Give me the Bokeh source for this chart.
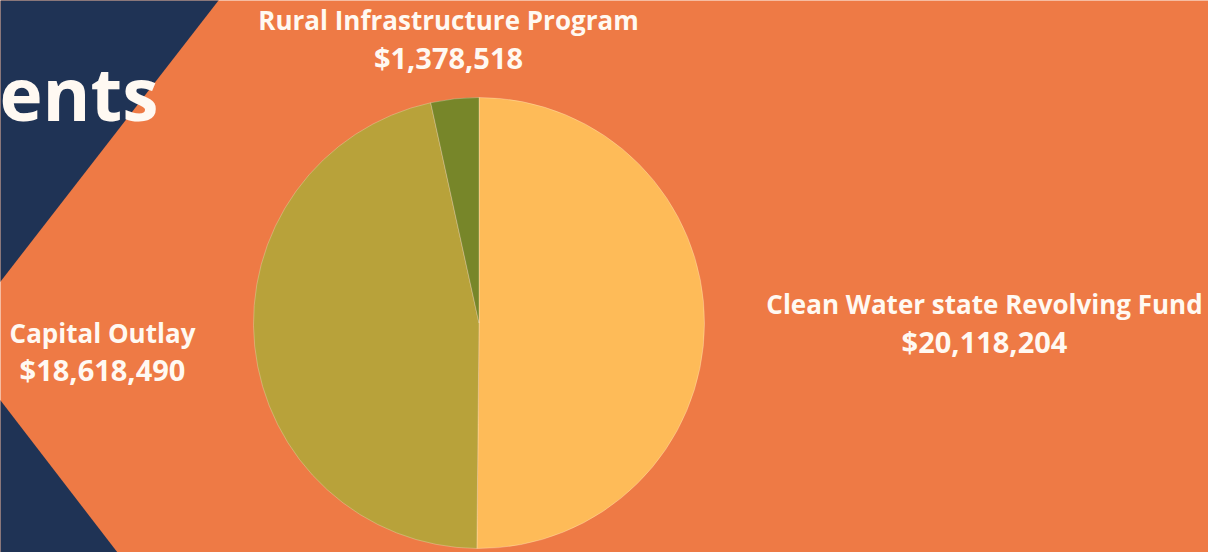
import numpy as np
from bokeh.plotting import figure
from bokeh.models import ColumnDataSource, Range1d
from bokeh.core.properties import value
from bokeh.embed import file_html
from bokeh.resources import INLINE

# ---- data ----
categories = ["Clean Water state Revolving Fund", "Capital Outlay", "Rural Infrastructure Program"]
amounts = [20118204, 18618490, 1378518]
labels = ["$20,118,204", "$18,618,490", "$1,378,518"]
colors = ["#FEBB58", "#B8A23A", "#778629"]

W, H = 1208, 552
BG = "#EE7A45"
NAVY = "#1F3355"
TXT = "#FFF9F2"
FONT = value("Open Sans")

p = figure(width=W, height=H, output_backend="svg", toolbar_location=None,
           x_range=Range1d(0, W), y_range=Range1d(0, H), min_border=0)
p.axis.visible = False
p.grid.visible = False
p.outline_line_color = None
p.background_fill_color = BG
p.border_fill_color = BG

def sy(y):  # screen-y (top-down) to data y
    return H - y

# navy background shapes (left of a chevron)
p.patches(xs=[[-60, 218 + 0.775 * 10, -60],
              [-60, 117 + 0.77 * 20, -60]],
          ys=[[sy(-10), sy(-10), sy(281 + 60 / 0.775)],
              [sy(400 - 60 / 0.77), sy(572), sy(572)]],
          fill_color=NAVY, line_color=None)

# pie
vals = np.array(amounts, dtype=float)
frac = vals / vals.sum()
cum = np.concatenate([[0], np.cumsum(frac)])
start = np.pi / 2 - cum[:-1] * 2 * np.pi
end = np.pi / 2 - cum[1:] * 2 * np.pi
src = ColumnDataSource(dict(start=start, end=end, color=colors, cat=categories))
cx, cy, r = 478.5, sy(322.5), 225.5
p.wedge(x=cx, y=cy, radius=r, start_angle="start", end_angle="end", direction="clock",
        fill_color="color", line_color="#FFFFFF", line_alpha=0.25, line_width=1, source=src)

# big partial title
p.text(x=[158], y=[sy(92)], text=["ents"], text_font=FONT, text_font_style="bold",
       text_font_size="73px", text_color=TXT, text_align="right", text_baseline="alphabetic")

# labels
lab_x = [984, 102, 448]
lab_y1 = [303, 332, 19]
lab_y2 = [341, 369, 57]
p.text(x=lab_x, y=[sy(v) for v in lab_y1], text=categories, text_font=FONT, text_font_style="bold",
       text_font_size="26px", text_color=TXT, text_align="center", text_baseline="alphabetic")
p.text(x=lab_x, y=[sy(v) for v in lab_y2], text=labels, text_font=FONT, text_font_style="bold",
       text_font_size="29px", text_color=TXT, text_align="center", text_baseline="alphabetic")

open("out.html", "w").write(file_html(p, INLINE))
